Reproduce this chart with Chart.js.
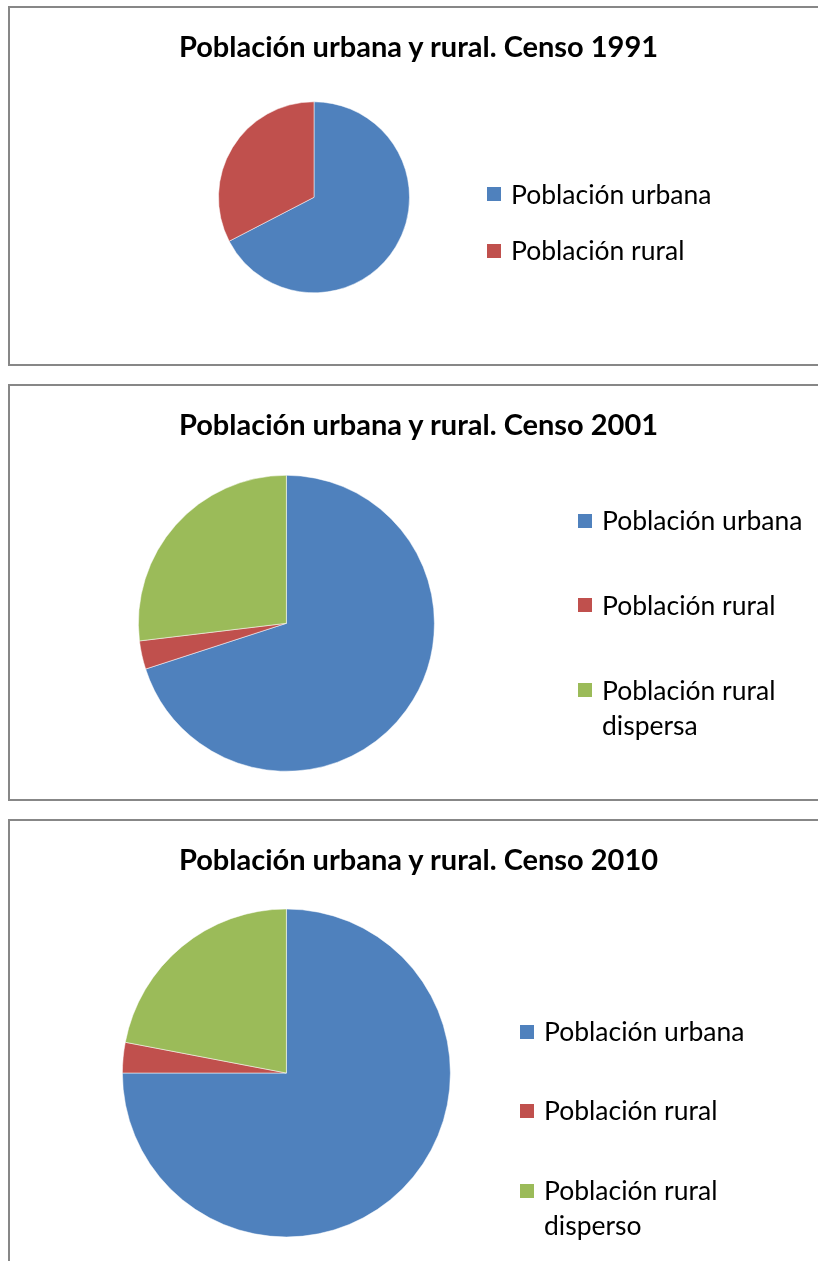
<!DOCTYPE html>
<html>
<head>
<meta charset="utf-8">
<script src="https://cdn.jsdelivr.net/npm/chart.js@4.4.1/dist/chart.umd.min.js"></script>
<style>
    html, body { margin: 0; padding: 0; background: #ffffff; overflow: hidden; }
    body { width: 818px; height: 1261px; position: relative; }
    .panel { position: absolute; left: 8px; width: 818px; border: 2px solid #878787; background: #ffffff; }
    .panel canvas { position: absolute; left: 0; top: 0; }
    .titulo { position: absolute; left: 0; top: 21px; width: 817px; text-align: center; font-family: Lato, sans-serif; font-weight: bold; font-size: 29px; line-height: 34.8px; color: #000000; white-space: nowrap; }
    .leyenda { position: absolute; font-family: Lato, sans-serif; font-size: 26.5px; line-height: 35px; color: #000000; }
    .item { position: absolute; left: 0; white-space: nowrap; }
    .cuadro { position: absolute; left: 0; width: 14px; height: 14px; top: 10.5px; }
    .texto { position: absolute; left: 24px; top: 0; }
</style>
</head>
<body>
<div class="panel" id="panel1" style="top:6px;height:356px;"><canvas id="censo1991" width="818" height="356"></canvas></div>
<div class="panel" id="panel2" style="top:384px;height:413px;"><canvas id="censo2001" width="818" height="413"></canvas></div>
<div class="panel" id="panel3" style="top:819px;height:460px;"><canvas id="censo2010" width="818" height="460"></canvas></div>
<script>
//Datos
var categorias1991 = ["Población urbana", "Población rural"];
var valores1991 = [67.4, 32.6];
var categorias2001 = ["Población urbana", "Población rural", ["Población rural", "dispersa"]];
var valores2001 = [70.0, 3.1, 26.9];
var categorias2010 = ["Población urbana", "Población rural", ["Población rural", "disperso"]];
var valores2010 = [75.0, 3.0, 22.0];
var colores = ["#4F81BD", "#C0504D", "#9BBB59"];
var titulos = ["Población urbana y rural. Censo 1991", "Población urbana y rural. Censo 2001", "Población urbana y rural. Censo 2010"];

//Torta erstellen
function torta(id, label, data, cx, cy, r) {
    var canvas = document.getElementById(id);
    return new Chart(canvas, {
        type: 'pie',
        data: {
            labels: label,
            datasets: [{
                data: data,
                backgroundColor: colores.slice(0, data.length),
                borderColor: 'rgba(255,255,255,0.5)',
                borderWidth: 1
            }]
        },
        options: {
            responsive: false,
            animation: false,
            radius: r,
            layout: {
                padding: {
                    left: cx - r,
                    right: canvas.width - cx - r,
                    top: cy - r,
                    bottom: canvas.height - cy - r
                }
            },
            plugins: {
                legend: { display: false },
                tooltip: { enabled: false },
                title: { display: false }
            }
        }
    });
}

//Titel
function titulo(panelId, texto) {
    var div = document.createElement("div");
    div.className = "titulo";
    div.textContent = texto;
    document.getElementById(panelId).appendChild(div);
}

//Leyenda erstellen
function leyenda(panelId, label, x, yCentros) {
    var panel = document.getElementById(panelId);
    var div = document.createElement("div");
    div.className = "leyenda";
    div.style.left = x + "px";
    div.style.top = "0px";
    label.forEach((lab, i) => {
        var item = document.createElement("div");
        item.className = "item";
        item.style.top = (yCentros[i] - 17.5) + "px";
        var cuadro = document.createElement("span");
        cuadro.className = "cuadro";
        cuadro.style.background = colores[i];
        item.appendChild(cuadro);
        var texto = document.createElement("span");
        texto.className = "texto";
        texto.innerHTML = Array.isArray(lab) ? lab.join("<br>") : lab;
        item.appendChild(texto);
        div.appendChild(item);
    });
    panel.appendChild(div);
}

torta("censo1991", categorias1991, valores1991, 304, 189.3, 95.5);
torta("censo2001", categorias2001, valores2001, 276.4, 237.3, 148);
torta("censo2010", categorias2010, valores2010, 276.4, 252, 164);

titulo("panel1", titulos[0]);
titulo("panel2", titulos[1]);
titulo("panel3", titulos[2]);

leyenda("panel1", categorias1991, 477, [186, 242.5]);
leyenda("panel2", categorias2001, 568, [134.5, 219.3, 304.3]);
leyenda("panel3", categorias2010, 510, [210.5, 289.5, 369.5]);
</script>
</body>
</html>
